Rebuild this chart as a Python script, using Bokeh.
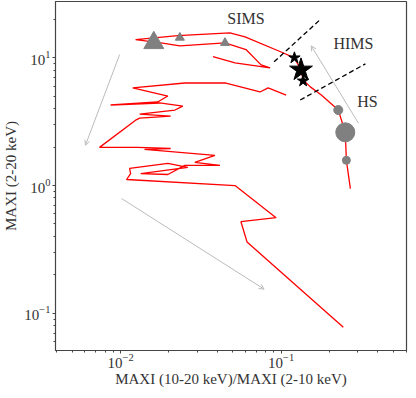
import math
from bokeh.plotting import figure
from bokeh.models import Arrow, OpenHead, ColumnDataSource
from bokeh.core.properties import value
from bokeh.embed import file_html
from bokeh.resources import INLINE

NaN = float("nan")

# Hardness ratio MAXI(10-20)/MAXI(2-10) and MAXI(2-20 keV) flux along the outburst track
track_hr = [0.270, 0.255, 0.251, 0.227, 0.178, 0.152, 0.137, 0.133, 0.121, 0.100,
            0.0596, 0.048, 0.0227, 0.0124, 0.0178, 0.0234, 0.0447, 0.0604, 0.0750, 0.0853,
            0.0516, 0.0376, NaN,
            0.1075, 0.0830, 0.0739, 0.0453, 0.0251, 0.0119, 0.0197, 0.0170, 0.00866, 0.0175,
            0.0244, 0.0218, 0.01315, 0.0205, 0.01315, 0.0124, 0.00739, 0.01277, 0.0205, 0.0141,
            0.0387, 0.0290, 0.0416, 0.0251, 0.0197, 0.01334, 0.0262, 0.0197, 0.01138, 0.01155,
            0.0109, 0.0516, 0.0930, 0.0562, 0.0613, 0.244]
track_flux = [0.946, 1.574, 2.61, 3.90, 5.11, 5.92, 6.71, 8.05, 10.0, 11.1,
              14.6, 15.7, 14.9, 13.9, 13.1, 12.4, 13.1, 11.6, 8.81, 8.34,
              9.14, 10.2, NaN,
              5.11, 5.81, 5.40, 6.35, 6.35, 5.81, 5.02, 4.51, 4.27, 4.43,
              4.19, 3.90, 3.62, 3.49, 3.37, 3.25, 1.99, 1.99, 1.95, 1.92,
              1.72, 1.52, 1.44, 1.44, 1.22, 1.24, 1.39, 1.49, 1.36, 1.24,
              1.115, 1.00, 0.560, 0.521, 0.362, 0.0776]

# SIMS triangles
sims_hr = [0.0161, 0.0234, 0.0447]
sims_flux = [13.1, 14.4, 13.1]
sims_size = [20, 9, 9]
# HIMS stars
hims_hr = [0.121, 0.133, 0.137]
hims_flux = [10.0, 8.05, 6.59]
hims_size = [12, 24, 12]
# HS circles
hs_hr = [0.227, 0.251, 0.255]
hs_flux = [3.90, 2.61, 1.574]
hs_size = [9, 19, 8]

# state boundaries (dashed)
bound_hr = [[0.0904, 0.175], [0.1315, 0.335]]
bound_flux = [[9.30, 19.9], [4.67, 8.97]]

# direction arrows (start hr, start flux, end hr, end flux)
arrows = [(0.00986, 10.6, 0.00604, 2.07),
          (0.01014, 0.791, 0.0783, 0.1545),
          (0.303, 3.08, 0.154, 12.4)]

label_text = ["SIMS", "HIMS", "HS"]
label_hr = [0.0604, 0.282, 0.345]
label_flux = [20.3, 12.9, 4.58]

FONT = "Liberation Serif"
TXT = "#333333"
AX = "#444444"

p = figure(width=408, height=390, x_axis_type="log", y_axis_type="log",
           x_range=(0.00393, 0.604), y_range=(0.0511, 27.6),
           output_backend="svg", toolbar_location=None,
           min_border_left=53, min_border_right=2, min_border_top=1, min_border_bottom=40)
p.grid.visible = False
p.outline_line_color = AX
p.outline_line_width = 1.2
p.background_fill_color = "white"

for ax in (p.xaxis, p.yaxis):
    ax.axis_line_color = AX
    ax.major_tick_line_color = AX
    ax.minor_tick_line_color = AX
    ax.major_tick_out = 3
    ax.major_tick_in = 0
    ax.minor_tick_out = 2
    ax.minor_tick_in = 0
    ax.major_label_text_font = FONT
    ax.major_label_text_font_size = "15px"
    ax.major_label_text_color = TXT
    ax.axis_label_text_font = FONT
    ax.axis_label_text_font_size = "15px"
    ax.axis_label_text_font_style = "normal"
    ax.axis_label_text_color = TXT
    ax.major_label_standoff = 2
    ax.axis_label_standoff = 2
p.xaxis.major_label_standoff = 0
p.xaxis.axis_label_standoff = 0

p.xaxis.axis_label = "MAXI (10-20 keV)/MAXI (2-10 keV)"
p.yaxis.axis_label = "MAXI (2-20 keV)"

p.line(track_hr, track_flux, line_color="#ff0000", line_width=1.3)

for (xs, ys, xe, ye) in arrows:
    p.add_layout(Arrow(end=OpenHead(size=5, line_color="#bbbbbb", line_width=1),
                       x_start=xs, y_start=ys, x_end=xe, y_end=ye,
                       line_color="#bbbbbb", line_width=1))

p.multi_line(bound_hr, bound_flux, line_color="black", line_width=1.3, line_dash="5 3")

p.scatter(sims_hr, sims_flux, marker="triangle", size=sims_size, fill_color="#808080", line_color="#808080")
p.scatter(hims_hr, hims_flux, marker="star", size=hims_size, fill_color="black", line_color="black")
p.scatter(hs_hr, hs_flux, marker="circle", size=hs_size, fill_color="#808080", line_color="#808080")

p.text(x=label_hr, y=label_flux, text=label_text, text_font=value(FONT), text_font_size="16px",
       text_align="center", text_baseline="middle", text_color=TXT)

open("out.html", "w").write(file_html(p, INLINE))
